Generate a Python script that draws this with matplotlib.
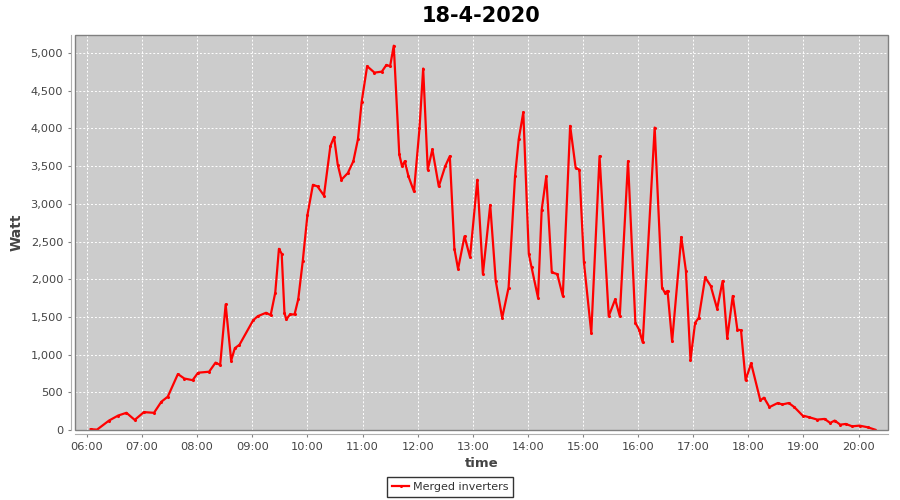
import matplotlib
matplotlib.use("Agg")
import matplotlib.pyplot as plt
import matplotlib.dates as mdates
from matplotlib.patches import Rectangle
from matplotlib.ticker import FuncFormatter, MultipleLocator
import pandas as pd

# power of the merged inverters
times = ["06:04", "06:11", "06:24", "06:34", "06:43", "06:52", "07:02", "07:13", "07:21", "07:28",
         "07:39", "07:46", "07:55", "08:01", "08:13", "08:20", "08:25", "08:31", "08:37", "08:41",
         "08:46", "09:01", "09:06", "09:15", "09:20", "09:25", "09:29", "09:32", "09:35", "09:37",
         "09:41", "09:46", "09:50", "09:55", "10:00", "10:06", "10:11", "10:18", "10:25", "10:29",
         "10:33", "10:37", "10:44", "10:50", "10:55", "10:59", "11:05", "11:13", "11:21", "11:26",
         "11:30", "11:34", "11:40", "11:43", "11:46", "11:50", "11:56", "12:02", "12:06", "12:11",
         "12:16", "12:23", "12:30", "12:35", "12:40", "12:44", "12:51", "12:57", "13:05", "13:11",
         "13:19", "13:25", "13:32", "13:39", "13:46", "13:50", "13:55", "14:01", "14:04", "14:11",
         "14:15", "14:20", "14:26", "14:32", "14:38", "14:46", "14:52", "14:56", "15:01", "15:09",
         "15:18", "15:28", "15:35", "15:40", "15:49", "15:57", "16:01", "16:05", "16:18", "16:26",
         "16:29", "16:32", "16:37", "16:47", "16:52", "16:57", "17:02", "17:06", "17:13", "17:19",
         "17:26", "17:32", "17:37", "17:43", "17:48", "17:52", "17:57", "18:03", "18:13", "18:17",
         "18:23", "18:32", "18:37", "18:44", "18:50", "18:59", "19:06", "19:15", "19:23", "19:29",
         "19:34", "19:40", "19:46", "19:53", "20:01", "20:10", "20:18"]
watt = [10, 5, 125, 192, 228, 134, 237, 228, 375, 442,
        742, 683, 661, 760, 773, 894, 862, 1666, 921, 1086,
        1130, 1457, 1510, 1555, 1524, 1823, 2404, 2337, 1555, 1466,
        1533, 1533, 1733, 2248, 2851, 3253, 3231, 3110, 3767, 3887,
        3521, 3320, 3409, 3566, 3857, 4348, 4826, 4741, 4754, 4843,
        4826, 5098, 3655, 3499, 3566, 3365, 3164, 4000, 4795, 3454,
        3722, 3231, 3499, 3633, 2404, 2136, 2570, 2292, 3320, 2068,
        2985, 1978, 1488, 1890, 3365, 3857, 4214, 2337, 2158, 1756,
        2918, 3365, 2091, 2068, 1778, 4035, 3476, 3454, 2225, 1287,
        3633, 1510, 1733, 1510, 3566, 1421, 1332, 1162, 4012, 1890,
        1823, 1845, 1175, 2560, 2114, 929, 1421, 1488, 2024, 1912,
        1608, 1979, 1220, 1778, 1332, 1323, 661, 885, 393, 429,
        304, 358, 339, 358, 304, 192, 170, 138, 147, 94,
        125, 71, 80, 49, 58, 36, 4]

day = "2020-04-18"
t = pd.to_datetime([day + " " + s for s in times])

fig = plt.figure(figsize=(9, 5), dpi=100)
ax = fig.add_axes([75 / 900, 70 / 500, 813 / 900, 395 / 500])
ax.set_facecolor("#cccccc")

line, = ax.plot(t, watt, color="#ff0000", linewidth=1.6, marker="o", markersize=1.2,
                label="Merged inverters", zorder=3)

ax.set_xlim(pd.Timestamp(day + " 05:47"), pd.Timestamp(day + " 20:32"))
ax.set_ylim(0, 5240)
ax.xaxis.set_major_locator(mdates.HourLocator())
ax.xaxis.set_major_formatter(mdates.DateFormatter("%H:%M"))
ax.yaxis.set_major_locator(MultipleLocator(500))
ax.yaxis.set_major_formatter(FuncFormatter(lambda v, p: f"{int(v):,}"))

ax.grid(True, color="white", linestyle=(0, (2, 2)), linewidth=0.7)
ax.set_axisbelow(True)

# JFreeChart style: axis lines sit a little outside the plot frame
for s in ["top", "right"]:
    ax.spines[s].set_visible(False)
for s in ["left", "bottom"]:
    ax.spines[s].set_position(("outward", 3))
    ax.spines[s].set_color("#b0b0b0")
ax.add_patch(Rectangle((0, 0), 1, 1, transform=ax.transAxes, fill=False,
                       edgecolor="#808080", linewidth=1, clip_on=False, zorder=4))

ax.tick_params(axis="both", colors="#808080", labelcolor="#444444", labelsize=8.2, length=2)

ax.set_title("18-4-2020", fontsize=15, fontweight="bold", pad=9)
ax.set_xlabel("time", fontsize=9.5, fontweight="bold", color="#444444", labelpad=4)
ax.set_ylabel("Watt", fontsize=10, fontweight="bold", color="#444444", labelpad=5)

leg = fig.legend(handles=[line], loc="lower center", bbox_to_anchor=(0.5, 0.0),
                 fontsize=8, frameon=True, fancybox=False, handlelength=1.6,
                 handletextpad=0.3, borderpad=0.45, borderaxespad=0.3, labelcolor="#333333")
leg.get_frame().set_edgecolor("black")
leg.get_frame().set_linewidth(1)

fig.savefig("out.png", dpi=100)
